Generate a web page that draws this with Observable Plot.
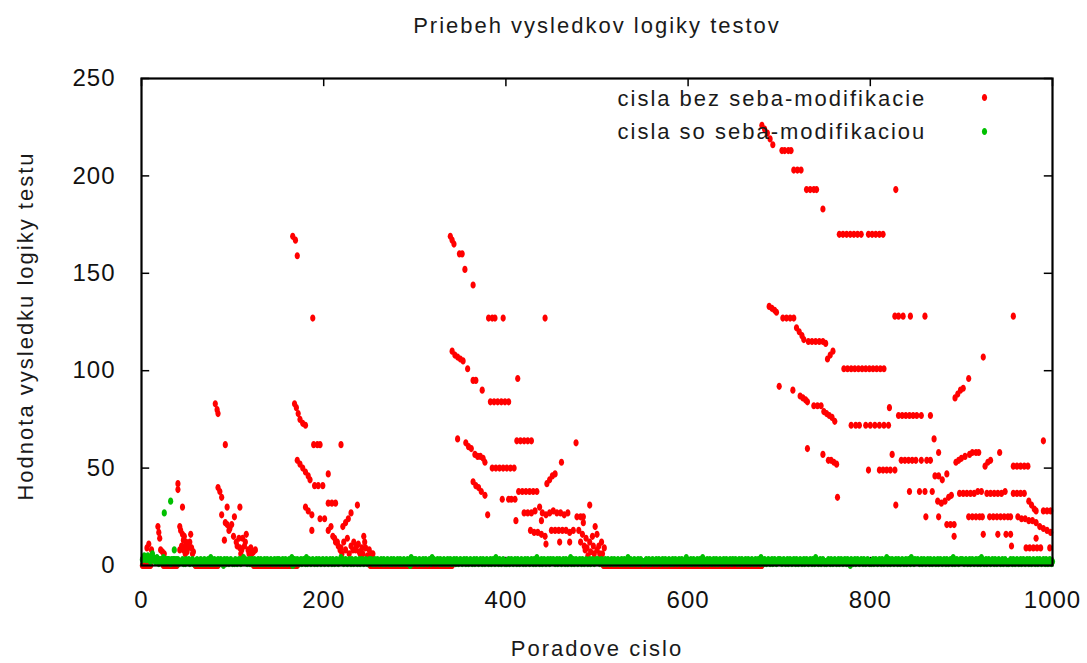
<!DOCTYPE html>
<html>
<head>
<meta charset="utf-8">
<script src="https://cdn.jsdelivr.net/npm/d3@7"></script>
<script src="https://cdn.jsdelivr.net/npm/@observablehq/plot@0.6"></script>
<style>
  html, body { margin: 0; padding: 0; background: #fff; }
  #chart { width: 1087px; height: 663px; }
</style>
</head>
<body>
<div id="chart"></div>
<script>
// ---------- text ----------
const titleText = "Priebeh vysledkov logiky testov";
const xLabelText = "Poradove cislo";
const yLabelText = "Hodnota vysledku logiky testu";
const seriesNames = ["cisla bez seba-modifikacie", "cisla so seba-modifikaciou"];
const seriesColors = ["#ff0000", "#00c000"];

// ---------- ticks ----------
const xTicks = [0, 200, 400, 600, 800, 1000];
const yTicks = [0, 50, 100, 150, 200, 250];

// ---------- red series: [poradove cislo, hodnota] ----------
const redClusterA = [
  [6,9],[8,11],[11,8],[18,20],[19,17],[20,14],[21,8],[23,7],[25,6],
  [40,42],[40,39],[45,30],[42,20],[45,16],[46,13],[48,10],[52,11],[54,16],[50,7],[56,6],[46,8],
  [43,18],[47,15],[49,12],[51,9],[53,12],[55,9],[57,7],[44,10],[48,6],[42,8],
  [81,83],[83,80],[84,78],[92,62],[84,40],[86,38],[88,35],[94,30],[108,30],
  [88,26],[92,22],[96,18],[99,21],[102,25],[91,13],[101,15],[104,12],[108,9],[111,14],[115,16],
  [113,10],[109,6],[118,6],[120,9],[123,7],
  [105,10],[107,14],[110,8],[114,12],[117,8],[121,6],[125,8],[97,19],[94,21]
];
const redClusterB = [
  [166,169],[169,167],[171,159],[188,127],
  [168,83],[170,81],[172,78],[174,75],[177,73],[180,72],
  [189,62],[193,62],[196,62],[219,62],
  [171,54],[174,52],[177,50],[180,48],[183,46],[185,44],[205,47],
  [190,41],[194,41],[199,41],
  [205,32],[209,32],[213,32],[237,31],
  [180,30],[183,28],[187,26],[196,24],[201,24],[187,18],
  [221,20],[224,22],[227,24],[230,27],
  [205,18],[208,20],[210,15],[213,12],[216,10],[218,8],
  [222,12],[226,14],[230,10],[235,8],[240,6],[244,15],[245,12],[248,5],[252,6],[228,6],[233,12],[238,11],[242,9],
  [212,14],[215,12],[219,9],[220,6],[224,8],[232,8],[236,10],[239,7],[243,6],[246,9],[250,8],[254,6]
];
const redClusterC = [
  [339,169],[341,167],[343,165],[349,160],[352,160],[355,152],[364,144],
  [381,127],[385,127],[388,127],[397,127],[443,127],
  [341,110],[344,108],[347,107],[350,106],[353,105],[358,101],[364,95],[367,95],[374,90],[413,96],
  [383,84],[387,84],[391,84],[395,84],[399,84],[403,84],
  [347,65],[356,63],[359,61],[362,60],[366,57],[369,56],[372,56],[375,55],[377,53],
  [412,64],[416,64],[420,64],[424,64],[428,64],[477,63],
  [385,50],[389,50],[393,50],[397,50],[401,50],[405,50],[409,50],
  [364,43],[367,41],[370,40],[373,38],[377,36],[396,34],[403,34],[406,34],[410,34],
  [414,38],[418,38],[422,38],[426,38],[430,38],[434,38],
  [380,26],[411,23],
  [445,42],[448,44],[451,46],[454,47],[461,53],[492,31],
  [420,27],[424,27],[428,27],[432,28],[437,30],[440,27],[444,26],[448,27],[452,28],[456,27],[460,27],[464,26],[468,27],
  [427,18],[431,17],[435,17],[439,16],[443,15],[439,23],[444,11],
  [450,18],[454,18],[458,18],[462,18],[466,18],[470,17],[474,18],[459,12],[470,12],
  [478,25],[482,25],[485,25],
  [480,18],[484,16],[488,14],[492,12],[496,10],[500,8],[503,6],[487,8],[495,15],[490,5],[500,16],[505,12],[508,9],[498,20],[485,22],
  [482,12],[486,10],[489,9],[493,7],[497,6],[502,10],[506,6]
];
const redClusterD = [
  [681,226],[684,224],[687,222],[690,219],[693,216],[703,213],[706,213],[710,213],[713,213],
  [716,203],[720,203],[724,203],[730,193],[734,193],[738,193],[741,193],[748,183],[828,193],
  [766,170],[770,170],[774,170],[778,170],[782,170],[786,170],[790,170],[798,170],[802,170],[806,170],[810,170],[814,170],
  [827,128],[831,128],[836,128],[844,128],[860,128],[957,128],[924,107],[908,96],[893,86],[896,88],[899,90],[902,91],
  [689,133],[692,132],[695,131],[697,130],[704,127],[708,127],[712,127],[716,127],[719,122],[722,120],[725,118],[727,116],
  [732,115],[736,115],[740,115],[744,115],[748,115],[751,114],[753,106],[756,108],[759,110],
  [771,101],[775,101],[779,101],[783,101],[787,101],[791,101],[795,101],[799,101],[803,101],[807,101],[811,101],[815,101],
  [700,92],[715,90],[723,87],[726,86],[729,85],[731,84],[738,82],[742,82],[746,82],
  [749,79],[752,78],[755,77],[758,76],[761,74],[779,72],[784,72],[788,72],[795,72],[800,72],[805,72],[810,72],[815,72],[820,72],
  [821,81],[831,77],[835,77],[839,77],[843,77],[847,77],[851,77],[856,77],[866,77],
  [731,60],[748,57],[754,54],[757,54],[760,53],[763,52],[764,35],
  [870,65],[875,58],[824,57],
  [834,54],[838,54],[842,54],[846,54],[850,54],[856,54],[862,54],[866,54],
  [798,49],[810,49],[814,49],[818,49],[822,49],[827,49],
  [871,46],[875,46],[879,44],[884,47],
  [894,53],[897,54],[900,55],[904,56],[909,57],[912,58],[916,58],[919,58],[926,51],[929,53],[932,54],[942,58],
  [957,51],[961,51],[965,51],[969,51],[973,51],[990,64],
  [843,38],[854,38],[860,38],[868,38],
  [874,33],[878,32],[882,33],[886,35],[889,36],
  [898,37],[902,37],[906,37],[910,37],[914,37],[918,38],[922,38],
  [928,37],[932,37],[936,37],[940,37],[944,37],[948,38],
  [957,37],[961,37],[965,37],[969,37],
  [974,33],[977,31],[980,29],[982,28],[990,28],[994,28],[998,28],
  [828,31],[861,25],[875,25],[884,21],[888,21],[892,21],[892,15],
  [908,25],[912,25],[916,25],[920,25],[923,25],
  [931,25],[935,25],[939,25],[943,25],[947,25],[951,25],[954,25],
  [962,25],[966,24],[970,24],[974,23],[978,23],[982,22],
  [986,20],[990,19],[994,18],[998,17],
  [924,16],[940,16],[949,16],[954,16],[955,10],[982,14],
  [971,9],[975,9],[979,9],[983,9],[987,9],[997,9]
];
// runs of x where the red series lies at 0: [first, last]
const redZeroRuns = [[1,10],[24,39],[59,84],[123,171],[251,341],[507,681]];

// ---------- green series: one value per x = 1..1000 (digits), plus outliers ----------
const greenRows = [
  "34543453423343234213232423233321323323231222312132",
  "23122312213221321232123214312321232132103213212321",
  "21321232132423212312321321232132123213212321232132",
  "31223123212321402312321231232141232123212312321232",
  "12321232132123212342312321232132123212312321232123",
  "23212312321232132123212312321232132123212312041232",
  "32123212312321232142321232132123212312321232132123",
  "21232132123212312321232132123212312321432132123212",
  "12312321232132123212312321232132143212312321232132",
  "23212312321232132123412312321232132123212312321232",
  "32123212312321232132123212312321242132123212312321",
  "21232132123212312321232132123212312321232132123412",
  "12312321232132143212312321232132123212312321232132",
  "23212312321232132123212312321432132123212312321232",
  "32123212312321232132123212312321232132143212312321",
  "21232132123212312321232132103212312321232132123212",
  "12312321232132123412312321232132123212312321432132",
  "23212312321232132123212312321232132123214312321232",
  "32123212312321232132143212312321232132123212312321",
  "21232132123212312321232132123212312321232132123212"
];
const greenOutliers = [[25,27],[32,33],[36,8],[12,6]];

// ---------- build tables ----------
const redData = [...redClusterA, ...redClusterB, ...redClusterC, ...redClusterD].map(([x, y]) => ({x, y}));
for (const [a, b] of redZeroRuns) for (let x = a; x <= b; x++) redData.push({x, y: 0});
const greenData = greenRows.join("").split("").map((c, i) => ({x: i + 1, y: +c}));
for (const [x, y] of greenOutliers) greenData.push({x, y});

// small vertical ellipse like the gnuplot point
const ellipse = {
  draw(ctx) {
    const w = 2.6, h = 3.6, k = 0.5523;
    ctx.moveTo(0, -h);
    ctx.bezierCurveTo(k * w, -h, w, -k * h, w, 0);
    ctx.bezierCurveTo(w, k * h, k * w, h, 0, h);
    ctx.bezierCurveTo(-k * w, h, -w, k * h, -w, 0);
    ctx.bezierCurveTo(-w, -k * h, -k * w, -h, 0, -h);
    ctx.closePath();
  }
};

const font = "'Liberation Sans', Arial, sans-serif";
const fmt = d => String(d);

const chart = Plot.plot({
  width: 1087,
  height: 663,
  marginLeft: 141,
  marginRight: 35,
  marginTop: 78,
  marginBottom: 98,
  style: {fontFamily: font, fontSize: "24px", color: "#111", background: "#fff", overflow: "visible"},
  x: {domain: [0, 1000]},
  y: {domain: [0, 250]},
  marks: [
    // inward ticks (drawn under the points)
    Plot.ruleX(xTicks, {x: d => d, y1: 0, y2: 4.2, stroke: "#000", strokeWidth: 1.5}),
    Plot.ruleX(xTicks, {x: d => d, y1: 245.8, y2: 250, stroke: "#000", strokeWidth: 1.5}),
    Plot.ruleY(yTicks, {y: d => d, x1: 0, x2: 9, stroke: "#000", strokeWidth: 1.5}),
    Plot.ruleY(yTicks, {y: d => d, x1: 991, x2: 1000, stroke: "#000", strokeWidth: 1.5}),
    Plot.axisX({ticks: xTicks, tickFormat: fmt, tickSize: 0, tickPadding: 25, fontSize: 24, label: null}),
    Plot.axisY({ticks: yTicks, tickFormat: fmt, tickSize: 0, tickPadding: 26, fontSize: 24, label: null}),
    Plot.dot(redData, {x: "x", y: "y", fill: seriesColors[0], stroke: "none", symbol: ellipse}),
    Plot.dot(greenData, {x: "x", y: "y", fill: seriesColors[1], stroke: "none", symbol: ellipse}),
    Plot.frame({stroke: "#000", strokeWidth: 2.2}),
    // legend
    Plot.text([seriesNames[0]], {frameAnchor: "top-left", dx: 476, dy: 20, lineAnchor: "middle", text: d => d, textAnchor: "start", fontSize: 22, fill: "#1a1a1a"}),
    Plot.text([seriesNames[1]], {frameAnchor: "top-left", dx: 476, dy: 53, lineAnchor: "middle", text: d => d, textAnchor: "start", fontSize: 22, fill: "#1a1a1a"}),
    Plot.dot([seriesNames[0]], {frameAnchor: "top-left", dx: 843, dy: 19, fill: seriesColors[0], stroke: "none", symbol: ellipse}),
    Plot.dot([seriesNames[1]], {frameAnchor: "top-left", dx: 843, dy: 53, fill: seriesColors[1], stroke: "none", symbol: ellipse}),
    // title and axis labels
    Plot.text([titleText], {frameAnchor: "top", dy: -53, lineAnchor: "middle", text: d => d, fontSize: 22, fill: "#1a1a1a"}),
    Plot.text([xLabelText], {frameAnchor: "bottom", dy: 83, lineAnchor: "middle", text: d => d, fontSize: 22, fill: "#1a1a1a"}),
    Plot.text([yLabelText], {frameAnchor: "left", dx: -116, dy: 4, rotate: -90, textAnchor: "middle", lineAnchor: "middle", text: d => d, fontSize: 22, fill: "#1a1a1a"})
  ]
});

d3.select(chart).selectAll('g[aria-label="text"] text').attr("letter-spacing", "2px");
d3.select(chart).selectAll('g[aria-label$="tick label"] text').attr("letter-spacing", "1px");
document.getElementById("chart").appendChild(chart);
</script>
</body>
</html>
